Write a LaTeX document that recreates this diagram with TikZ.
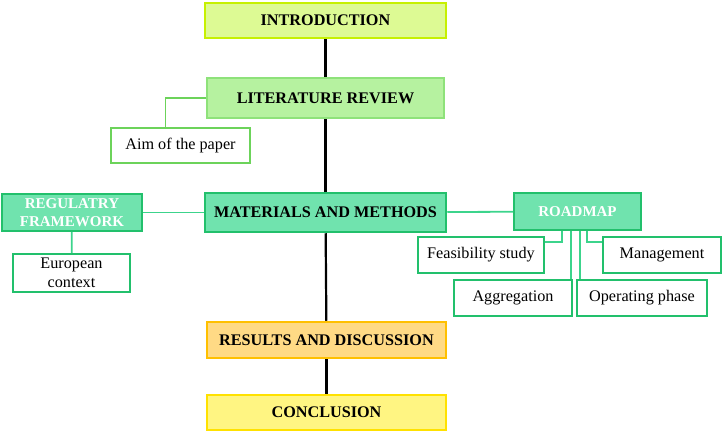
\documentclass[tikz,border=0pt]{standalone}
\usepackage{fontspec}
\setmainfont{Liberation Serif}

\definecolor{introfill}{HTML}{DDFA94}
\definecolor{introline}{HTML}{C6F000}
\definecolor{litfill}{HTML}{B6F2A0}
\definecolor{litline}{HTML}{8EE27A}
\definecolor{matfill}{HTML}{70E3AE}
\definecolor{matline}{HTML}{22C06C}
\definecolor{resfill}{HTML}{FFDA85}
\definecolor{resline}{HTML}{FFC000}
\definecolor{conclfill}{HTML}{FFF582}
\definecolor{conclline}{HTML}{FFE100}
\definecolor{aimline}{HTML}{6CD35A}
\definecolor{linkgreen}{HTML}{3CD48C}

\begin{document}
\begin{tikzpicture}[x=1pt, y=-1pt,
    mainbox/.style={draw, line width=2.5pt, inner sep=0pt, align=center,
      font=\fontsize{16.2}{18}\selectfont\bfseries},
    subbox/.style={draw=matline, line width=2pt, fill=matfill, inner sep=0pt,
      align=center, text=white, font=\fontsize{15}{18}\selectfont\bfseries},
    leafbox/.style={draw=matline, line width=2pt, fill=white, inner sep=0pt,
      align=center, font=\fontsize{16.2}{18.5}\selectfont},
    spine/.style={line width=2.2pt, black},
    link/.style={line width=1.8pt, linkgreen}]
  \useasboundingbox (0,0) rectangle (724,434);

  % Main column
  \node[mainbox, draw=introline, fill=introfill, minimum width=241pt, minimum height=35pt]
    (intro) at (325.5,20.5) {INTRODUCTION};
  \node[mainbox, draw=litline, fill=litfill, minimum width=237pt, minimum height=40pt]
    (lit) at (325.5,98) {LITERATURE REVIEW};
  \node[mainbox, draw=matline, fill=matfill, minimum width=241pt, minimum height=39pt]
    (mat) at (325.5,212.5) {MATERIALS AND METHODS};
  \node[mainbox, draw=resline, fill=resfill, minimum width=239pt, minimum height=36pt]
    (res) at (326.5,340) {RESULTS AND DISCUSSION};
  \node[mainbox, draw=conclline, fill=conclfill, minimum width=239pt, minimum height=35pt]
    (concl) at (326.5,412.5) {CONCLUSION};

  \draw[spine] (intro) -- (lit);
  \draw[spine] (lit) -- (mat);
  \draw[spine] (mat) -- (res);
  \draw[spine] (res) -- (concl);

  % Left side
  \node[leafbox, draw=aimline, minimum width=139pt, minimum height=35pt]
    (aim) at (180.5,145.5) {Aim of the paper};
  \node[subbox, minimum width=140pt, minimum height=37pt]
    (reg) at (72,212.5) {REGULATRY\\FRAMEWORK};
  \node[leafbox, minimum width=117pt, minimum height=38pt]
    (euro) at (71.5,273) {European\\context};

  \draw[link, aimline] (lit.west) -| ([xshift=-15pt]aim.north);
  \draw[link] (mat) -- (reg);
  \draw[link] (reg) -- (euro);

  % Right side
  \node[subbox, minimum width=127pt, minimum height=37pt]
    (road) at (577.5,211.5) {ROADMAP};
  \node[leafbox, minimum width=126pt, minimum height=36pt]
    (feas) at (481,255) {Feasibility study};
  \node[leafbox, minimum width=118pt, minimum height=36pt]
    (mgmt) at (662,255) {Management};
  \node[leafbox, minimum width=118pt, minimum height=36pt]
    (aggr) at (513,298) {Aggregation};
  \node[leafbox, minimum width=130pt, minimum height=36pt]
    (oper) at (642,298) {Operating phase};

  \draw[link] (mat) -- (road);
  \draw[link] ([xshift=-15.5pt]road.south) |- ([yshift=13pt]feas.east);
  \draw[link] ([xshift=-6.5pt]road.south) -- ([xshift=-6.5pt]road.south |- aggr.north);
  \draw[link] ([xshift=2.5pt]road.south) -- ([xshift=2.5pt]road.south |- oper.north);
  \draw[link] ([xshift=9.5pt]road.south) |- ([yshift=13pt]mgmt.west);
\end{tikzpicture}
\end{document}
